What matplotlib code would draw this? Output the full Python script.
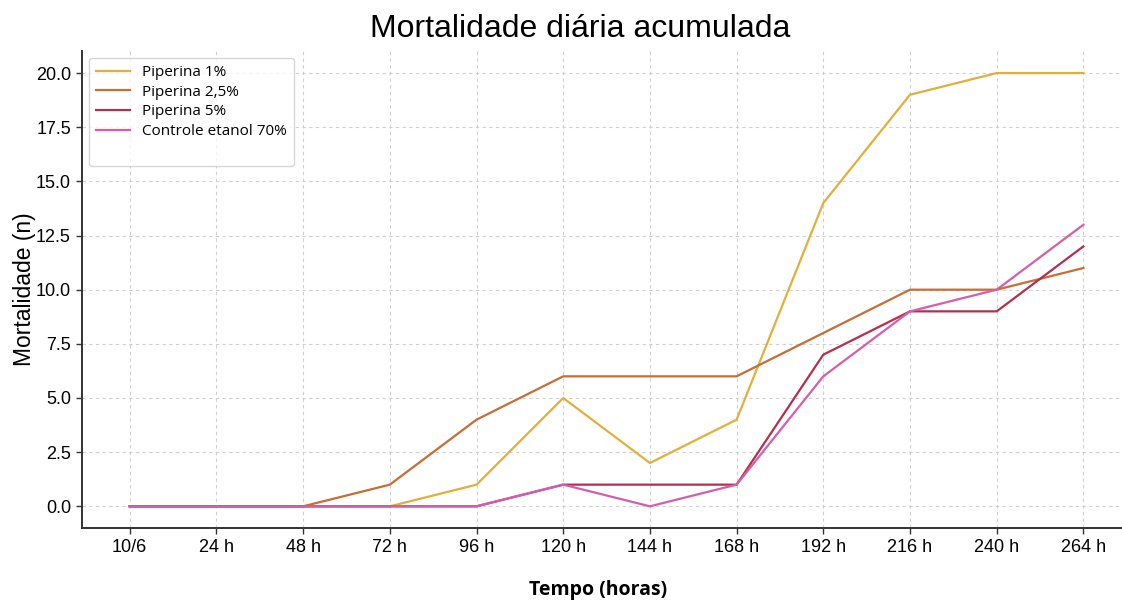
import matplotlib
matplotlib.use("Agg")
import matplotlib.pyplot as plt

# dados
tempos = ['10/6', '24 h', '48 h', '72 h', '96 h', '120 h', '144 h', '168 h',
          '192 h', '216 h', '240 h', '264 h']
piperina_1 = [0, 0, 0, 0, 1, 5, 2, 4, 14, 19, 20, 20]
piperina_25 = [0, 0, 0, 1, 4, 6, 6, 6, 8, 10, 10, 11]
piperina_5 = [0, 0, 0, 0, 0, 1, 1, 1, 7, 9, 9, 12]
controle = [0, 0, 0, 0, 0, 1, 0, 1, 6, 9, 10, 13]

series = [
    ('Piperina 1%', piperina_1, '#e1b03a'),
    ('Piperina 2,5%', piperina_25, '#c96c36'),
    ('Piperina 5%', piperina_5, '#b2304f'),
    ('Controle etanol 70%', controle, '#d35fac'),
]

plt.rcParams['font.family'] = ['Liberation Sans', 'DejaVu Sans']

fig = plt.figure(figsize=(11.22, 6.01), dpi=100)
ax = fig.add_axes([0.0731, 0.1215, 0.935, 0.793])

x = list(range(len(tempos)))
for nome, vals, cor in series:
    ax.plot(x, vals, color=cor, linewidth=1.6, label=nome)
# linha vazia para deixar o espaco extra na legenda
ax.plot([], [], color='none', label=' ')

ax.set_xticks(x)
ax.set_xticklabels(tempos, fontsize=13)
ax.set_yticks([0, 2.5, 5, 7.5, 10, 12.5, 15, 17.5, 20])
ax.set_yticklabels(['0.0', '2.5', '5.0', '7.5', '10.0', '12.5', '15.0', '17.5', '20.0'], fontsize=13)
ax.set_xlim(-0.55, 11.55)
ax.set_ylim(-1, 21)

ax.grid(True, color='#cfcfcf', linestyle=(0, (3, 3)), linewidth=0.8)
ax.set_axisbelow(True)
for s in ['top', 'right']:
    ax.spines[s].set_visible(False)
for s in ['left', 'bottom']:
    ax.spines[s].set_color('#333333')
    ax.spines[s].set_linewidth(1.4)
ax.tick_params(length=4, width=1, color='#333333', pad=4)

ax.set_title('Mortalidade diária acumulada', fontsize=23, pad=10, x=0.475)
ax.set_ylabel('Mortalidade (n)', fontsize=16.5, labelpad=0)
fig.text(598 / 1122, 1 - 590 / 601, 'Tempo (horas)', fontsize=14, fontweight='bold',
         family='Open Sans', ha='center', va='center')

leg = ax.legend(loc='upper left', prop={'family': 'Open Sans', 'size': 11},
                handlelength=2.2, frameon=True, fancybox=True, borderpad=0.5,
                labelspacing=0.3, bbox_to_anchor=(-0.001, 1.003))
leg.get_frame().set_edgecolor('#cccccc')

fig.savefig('out.png', dpi=100)
